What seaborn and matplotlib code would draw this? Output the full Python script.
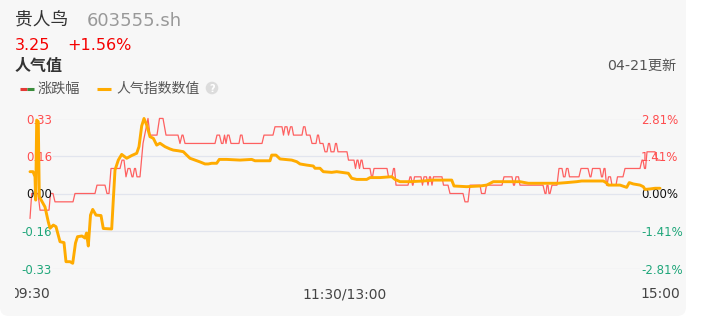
import numpy as np
import pandas as pd
import matplotlib
matplotlib.use("Agg")
import matplotlib.pyplot as plt
import seaborn as sns
from matplotlib.patches import FancyBboxPatch, Circle
from matplotlib.transforms import Bbox

# ---------------- data ----------------
stock_name = "贵人鸟"
stock_code = "603555.sh"
last_price = "3.25"
last_change = "+1.56%"
prev_close = 3.20
update_text = "04-21更新"

x_tick_minutes = [0, 120, 240]
x_tick_labels = ["09:30", "11:30/13:00", "15:00"]
left_ticks = [-0.33, -0.165, 0.0, 0.165, 0.33]
left_labels = ["-0.33", "-0.16", "0.00", "0.16", "0.33"]
right_ticks = [-2.81, -1.405, 0.0, 1.405, 2.81]
right_labels = ["-2.81%", "-1.41%", "0.00%", "1.41%", "2.81%"]

# price (涨跌幅) series: minutes since 09:30, price
red_minutes = [0, 0.65, 3.05, 3.81, 7.24, 7.81, 8.76, 9.52, 16.38, 17.14, 24.76, 25.52, 28.57, 29.33,
               30.10, 30.86, 34.29, 35.05, 35.81, 36.57, 37.33, 38.10, 38.86, 39.24, 39.81, 40.19,
               40.76, 41.90, 43.05, 44.95, 45.71, 48.38, 49.33, 50.67, 51.81, 56.38, 57.14, 57.90,
               58.29, 59.05, 70.48, 71.24, 72.19, 72.95, 73.52, 74.10, 74.67, 75.24, 75.81, 76.57,
               79.62, 80.19, 80.76, 81.33, 88.38, 89.14, 92.57, 93.33, 96.00, 96.57, 97.14, 97.90,
               98.48, 99.24, 99.81, 100.38, 103.62, 104.19, 104.76, 105.33, 106.67, 107.43, 108.95,
               109.52, 109.90, 110.48, 111.62, 112.38, 113.14, 113.71, 114.10, 114.67, 115.81,
               116.38, 116.76, 117.33, 120.76, 121.33, 123.43, 124.00, 124.57, 124.95, 125.52,
               126.10, 126.48, 127.05, 129.52, 130.10, 130.48, 131.05, 136.00, 136.57, 137.90,
               138.48, 138.86, 139.43, 144.00, 144.76, 145.14, 145.71, 145.90, 146.48, 148.95,
               149.52, 150.10, 151.05, 151.62, 152.19, 152.57, 153.14, 153.71, 156.95, 157.52,
               159.24, 160.00, 164.95, 165.71, 166.86, 167.62, 171.43, 172.00, 173.33, 173.90,
               179.81, 180.57, 183.62, 184.19, 184.57, 185.14, 186.10, 186.67, 195.43, 196.19,
               196.57, 196.95, 197.33, 197.71, 198.10, 198.86, 200.76, 201.52, 202.67, 203.24,
               203.81, 204.38, 204.95, 205.52, 209.14, 209.90, 212.57, 213.33, 213.71, 214.29,
               217.14, 217.71, 218.10, 218.67, 219.05, 219.62, 219.81, 220.38, 221.14, 221.71,
               223.24, 223.81, 225.90, 226.67, 232.38, 233.14, 233.52, 234.10, 234.48, 235.05,
               238.10, 238.86, 240.0]
red_price = [3.17, 3.20, 3.20, 3.18, 3.18, 3.20, 3.20, 3.19, 3.19, 3.20, 3.20, 3.21, 3.21, 3.20,
             3.20, 3.23, 3.23, 3.24, 3.24, 3.22, 3.23, 3.23, 3.22, 3.22, 3.23, 3.23,
             3.22, 3.22, 3.26, 3.29, 3.27, 3.27, 3.29, 3.29, 3.27, 3.27, 3.26, 3.27,
             3.27, 3.26, 3.26, 3.27, 3.27, 3.26, 3.26, 3.27, 3.26, 3.27, 3.27, 3.26,
             3.26, 3.27, 3.27, 3.26, 3.26, 3.27, 3.27, 3.28, 3.28, 3.27, 3.28, 3.28,
             3.27, 3.28, 3.28, 3.27, 3.27, 3.28, 3.28, 3.27, 3.27, 3.26, 3.26,
             3.27, 3.27, 3.26, 3.26, 3.25, 3.25, 3.26, 3.26, 3.25, 3.25,
             3.26, 3.26, 3.25, 3.25, 3.24, 3.24, 3.23, 3.24, 3.24, 3.23,
             3.24, 3.24, 3.23, 3.23, 3.22, 3.22, 3.23, 3.23, 3.22, 3.22,
             3.23, 3.23, 3.21, 3.21, 3.22, 3.22, 3.21, 3.21, 3.22, 3.22,
             3.21, 3.22, 3.22, 3.21, 3.22, 3.22, 3.21, 3.22, 3.22, 3.21,
             3.21, 3.20, 3.20, 3.19, 3.19, 3.21, 3.21, 3.20, 3.20, 3.21,
             3.21, 3.22, 3.22, 3.21, 3.21, 3.22, 3.22, 3.21, 3.21, 3.20,
             3.20, 3.21, 3.21, 3.20, 3.20, 3.21, 3.21, 3.23, 3.23, 3.22,
             3.22, 3.23, 3.23, 3.22, 3.22, 3.23, 3.23, 3.22, 3.22, 3.23,
             3.23, 3.22, 3.22, 3.23, 3.23, 3.21, 3.21, 3.22, 3.22, 3.21,
             3.21, 3.22, 3.22, 3.23, 3.23, 3.24, 3.24, 3.23, 3.23, 3.25,
             3.25, 3.24, 3.24]

# popularity index (人气指数数值) series
pop_minutes = [0, 1.14, 1.90, 2.17, 2.55, 3.16, 3.54, 4.46, 5.71, 6.97, 7.62, 8.88, 9.90, 11.43,
               12.95, 13.71, 15.24, 16.27, 17.33, 18.10, 19.81, 20.95, 21.52, 22.21, 23.05, 23.89,
               25.14, 27.05, 27.92, 31.12, 31.73, 32.38, 33.64, 34.93, 36.84, 38.74, 40.65, 41.52,
               42.55, 43.43, 44.46, 45.71, 46.97, 48.27, 49.52, 51.43, 53.33, 54.59, 56.50, 58.40,
               59.70, 60.95, 62.86, 64.76, 66.67, 67.92, 69.22, 71.12, 72.11, 74.93, 80.00, 84.46,
               85.71, 91.43, 92.08, 93.71, 95.24, 99.70, 101.60, 102.86, 105.41, 107.92, 108.57,
               110.48, 111.73, 114.93, 116.84, 118.74, 121.26, 122.55, 124.46, 128.27, 129.52,
               133.33, 137.79, 139.05, 140.95, 144.76, 149.83, 153.64, 160.65, 161.52, 166.36,
               171.43, 173.98, 176.50, 186.67, 189.83, 201.14, 204.46, 208.27, 210.17, 218.40,
               219.70, 220.30, 224.76, 227.31, 228.30, 229.83, 232.38, 233.64, 234.29, 236.19,
               238.10, 240.0]
pop_values = [0.096, 0.096, 0.074, -0.029, 0.323, 0.316, -0.014, -0.033, -0.059, -0.125, -0.153,
              -0.139, -0.146, -0.212, -0.216, -0.300, -0.300, -0.307, -0.218, -0.190, -0.187,
              -0.196, -0.174, -0.231, -0.095, -0.070, -0.095, -0.097, -0.154, -0.156, -0.029,
              0.103, 0.147, 0.172, 0.155, 0.167, 0.177, 0.206, 0.297, 0.330, 0.301, 0.250,
              0.243, 0.213, 0.221, 0.206, 0.196, 0.191, 0.188, 0.184, 0.169, 0.155, 0.147,
              0.139, 0.130, 0.130, 0.133, 0.133, 0.150, 0.150, 0.147, 0.150, 0.144, 0.144,
              0.169, 0.169, 0.152, 0.147, 0.140, 0.130, 0.125, 0.121, 0.111, 0.111, 0.096,
              0.093, 0.096, 0.093, 0.089, 0.067, 0.062, 0.062, 0.070, 0.070, 0.074, 0.062,
              0.052, 0.052, 0.055, 0.059, 0.059, 0.033, 0.030, 0.033, 0.037, 0.052, 0.052,
              0.045, 0.045, 0.048, 0.052, 0.055, 0.055, 0.046, 0.037, 0.037, 0.027, 0.048,
              0.042, 0.037, 0.030, 0.018, 0.020, 0.023, 0.023]

# ---------------- style ----------------
sns.set_style("white")
plt.rcParams["font.family"] = ["DejaVu Sans", "Noto Sans CJK SC"]

W, H = 701, 320
fig = plt.figure(figsize=(W / 100, H / 100), dpi=100)
fig.patch.set_facecolor("white")

CARD = "#f7f7f7"
RED_TXT = "#ff4d4f"
GREEN_TXT = "#1fa67a"

# background / header axes in pixel units
bg = fig.add_axes([0, 0, 1, 1], zorder=0)
bg.set_xlim(0, W)
bg.set_ylim(H, 0)
bg.axis("off")
bg.add_patch(FancyBboxPatch((0, -20), 686, 336, boxstyle="round,pad=0,rounding_size=9",
                            fc=CARD, ec="none"))

bg.text(15, 21, stock_name, fontsize=12.8, color="#333333", va="center", ha="left")
bg.text(87, 21, stock_code, fontsize=13, color="#999999", va="center", ha="left")
bg.text(15, 46, last_price, fontsize=11.5, color="#f50000", va="center", ha="left")
bg.text(67, 46, last_change, fontsize=11.5, color="#f50000", va="center", ha="left")
bg.text(15, 66, "人气值", fontsize=11.5, color="#333333", va="center", ha="left", fontweight="bold")
bg.text(676, 66, update_text, fontsize=10.2, color="#555555", va="center", ha="right")

# legend
bg.plot([20, 27], [88.5, 88.5], color="#e53935", lw=2.2, solid_capstyle="butt")
bg.plot([27, 34], [88.5, 88.5], color="#3b8c3b", lw=2.2, solid_capstyle="butt")
bg.text(38, 89, "涨跌幅", fontsize=10.2, color="#555555", va="center", ha="left")
bg.plot([97, 111], [88.5, 88.5], color="#ffab00", lw=2.2, solid_capstyle="butt")
bg.text(116, 89, "人气指数数值", fontsize=10, color="#555555", va="center", ha="left")
bg.add_patch(Circle((212, 88), 6.3, fc="#dcdcdc", ec="none"))
bg.text(212, 88.5, "?", fontsize=7, color="white", va="center", ha="center", fontweight="bold")

# main chart axes
ax = fig.add_axes([30 / W, (H - 268.5) / H, 630 / W, 150 / H])
ax2 = ax.twinx()
ax.set_zorder(3)
ax2.set_zorder(2)
ax.patch.set_visible(False)
ax2.patch.set_visible(False)

red_df = pd.DataFrame({"minute": red_minutes, "price": red_price})
red_df["pct"] = (red_df["price"] - prev_close) / prev_close * 100
pop_df = pd.DataFrame({"minute": pop_minutes, "value": pop_values})

# grid lines
ax2.hlines(right_ticks, 0.035, 0.968, transform=ax2.get_yaxis_transform(),
           color="#e2e5ee", lw=0.9, zorder=0)

sns.lineplot(data=red_df, x="minute", y="pct", ax=ax2, color="#ff5050", lw=0.9,
             estimator=None, sort=False, legend=False, alpha=0.9)
sns.lineplot(data=pop_df, x="minute", y="value", ax=ax, color="#ffab00", lw=2.1,
             estimator=None, sort=False, legend=False)
for a in (ax, ax2):
    for ln in a.lines:
        ln.set_clip_on(False)

ax.set_xlim(0, 240)
ax.set_ylim(-0.33, 0.33)
ax2.set_ylim(-2.81, 2.81)

for a in (ax, ax2):
    for s in a.spines.values():
        s.set_visible(False)
    a.set_xlabel("")
    a.set_ylabel("")

ax.set_yticks(left_ticks)
ax.set_yticklabels(left_labels)
ax.tick_params(axis="y", length=0, pad=-15.8, labelsize=8.5)
ax2.set_yticks(right_ticks)
ax2.set_yticklabels(right_labels)
ax2.tick_params(axis="y", length=0, pad=-13.7, labelsize=8.5)

def tick_color(v):
    if v > 0:
        return RED_TXT
    if v < 0:
        return GREEN_TXT
    return "#111111"

for lab, v in zip(ax.get_yticklabels(), left_ticks):
    lab.set_color(tick_color(v))
for lab, v in zip(ax2.get_yticklabels(), right_ticks):
    lab.set_color(tick_color(v))

ax.set_xticks(x_tick_minutes)
ax.set_xticklabels(x_tick_labels)
ax.tick_params(axis="x", length=0, pad=13.5, labelsize=10, labelcolor="#444444")
clip_bb = Bbox([[15, 0], [W, H]])
for lab in ax.get_xticklabels():
    lab.set_clip_box(clip_bb)
    lab.set_clip_on(True)

fig.savefig("out.png", dpi=100, facecolor="white")
